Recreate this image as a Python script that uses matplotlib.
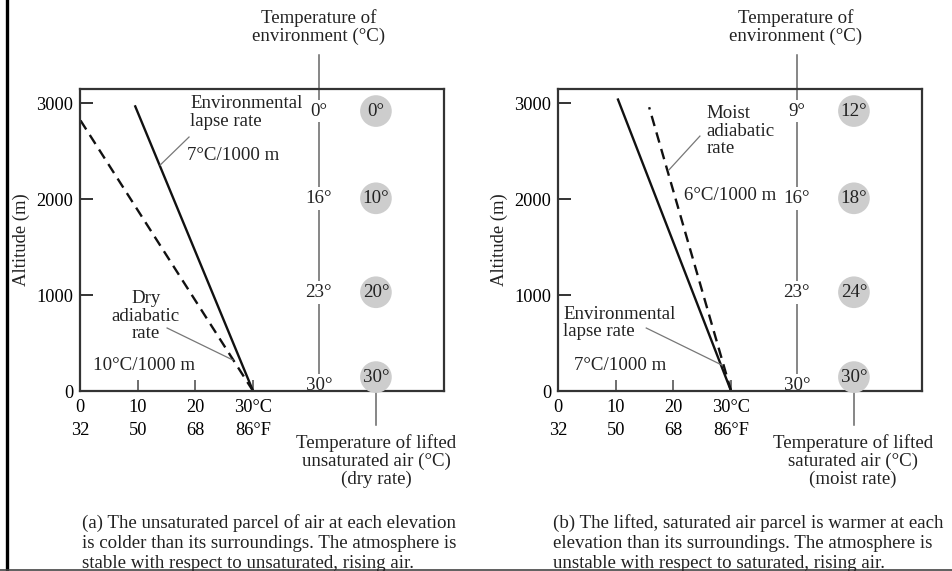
import matplotlib.pyplot as plt
from matplotlib.lines import Line2D

plt.rcParams['font.family'] = ['Liberation Serif', 'DejaVu Serif']
plt.rcParams['font.size'] = 13.6
plt.rcParams['text.color'] = '#222222'

# axis data
alt_ticks = [0, 1000, 2000, 3000]
temp_c = [0, 10, 20, 30]
temp_f = [32, 50, 68, 86]

# (a) unsaturated case
env_a_t = [30, 9.5]
env_a_z = [0, 2980]
dry_a_t = [30, 0]
dry_a_z = [0, 2830]
env_labels_a = ['0°', '16°', '23°', '30°']
parcel_labels_a = ['0°', '10°', '20°', '30°']

# (b) saturated case
env_b_t = [30, 10.4]
env_b_z = [0, 3040]
moist_b_t = [30, 15.8]
moist_b_z = [0, 2960]
env_labels_b = ['9°', '16°', '23°', '30°']
parcel_labels_b = ['12°', '18°', '24°', '30°']

# where the two temperature columns sit (in °C axis units) and label heights
env_col_x = 41.4
parcel_col_x = 51.3
env_label_z = [2920, 2010, 1030, 60]
parcel_label_z = [2920, 2010, 1030, 145]

W, H = 953, 571
fig = plt.figure(figsize=(W / 100, H / 100), dpi=100)


def px(x, y):
    return x / W, 1 - y / H


def setup_axes(left_px):
    ax = fig.add_axes([left_px / W, (H - 391) / H, 364 / W, 302 / H])
    ax.set_xlim(0, 63.1)
    ax.set_ylim(0, 3150)
    for s in ax.spines.values():
        s.set_linewidth(1.6)
        s.set_color('#333333')
    ax.set_yticks(alt_ticks)
    ax.set_yticklabels([str(a) for a in alt_ticks])
    ax.set_xticks(temp_c)
    ax.set_xticklabels([f'{c}°C\n{f}°F' if c == 30 else f'{c}\n{f}'
                        for c, f in zip(temp_c, temp_f)])
    for lab in ax.get_xticklabels():
        lab.set_linespacing(1.5)
    ax.tick_params(axis='y', direction='in', length=9.5, width=1.4,
                   color='#333333', pad=5, labelsize=13.2)
    ax.tick_params(axis='x', direction='in', length=8, width=1.2,
                   color='#555555', pad=5.5, labelsize=13.2)
    fig.text(*px(left_px - 59, 240), 'Altitude (m)', rotation=90,
             ha='center', va='center', fontsize=13.4)
    return ax


def columns(ax, env_labels, parcel_labels):
    ax.plot([env_col_x, env_col_x], [0, 3500], color='#666666', lw=1.1,
            clip_on=False, zorder=1)
    for lab, z in zip(env_labels, env_label_z):
        ax.text(env_col_x, z, lab, ha='center', va='center', zorder=2,
                bbox=dict(boxstyle='square,pad=0.15', fc='white', ec='none'))
    ax.plot([parcel_col_x, parcel_col_x], [parcel_label_z[-1], -355],
            color='#666666', lw=1.1, clip_on=False, zorder=1)
    ax.scatter([parcel_col_x] * len(parcel_labels), parcel_label_z, s=520,
               color='#cdcdcd', edgecolors='none', zorder=3, clip_on=False)
    for lab, z in zip(parcel_labels, parcel_label_z):
        ax.text(parcel_col_x, z, lab, ha='center', va='center', zorder=4)


# ---- panel (a)
ax1 = setup_axes(80)
ax1.plot(env_a_t, env_a_z, color='#111111', lw=1.7, solid_capstyle='butt')
ax1.plot(dry_a_t, dry_a_z, color='#111111', lw=1.7, ls=(0, (4.5, 2.8)))
columns(ax1, env_labels_a, parcel_labels_a)
ax1.text(19.1, 2904, 'Environmental\nlapse rate', ha='left', va='center',
         linespacing=1.05)
ax1.text(18.5, 2461, '7°C/1000 m', ha='left', va='center')
ax1.plot([18.9, 13.9], [2649, 2357], color='#777777', lw=0.9)
ax1.text(11.4, 782, 'Dry\nadiabatic\nrate', ha='center', va='center',
         linespacing=1.05)
ax1.plot([15.1, 26.5], [657, 323], color='#777777', lw=0.9)
ax1.text(2.2, 261, '10°C/1000 m', ha='left', va='center')

# ---- panel (b)
ax2 = setup_axes(558)
ax2.plot(env_b_t, env_b_z, color='#111111', lw=1.7)
ax2.plot(moist_b_t, moist_b_z, color='#111111', lw=1.7, ls=(0, (4.5, 2.8)))
columns(ax2, env_labels_b, parcel_labels_b)
ax2.text(25.7, 2711, 'Moist\nadiabatic\nrate', ha='left', va='center',
         linespacing=1.05)
ax2.plot([24.6, 19.2], [2659, 2304], color='#777777', lw=0.9)
ax2.text(21.8, 2044, '6°C/1000 m', ha='left', va='center')
ax2.text(0.9, 709, 'Environmental\nlapse rate', ha='left', va='center',
         linespacing=1.05)
ax2.plot([15.3, 28.4], [657, 271], color='#777777', lw=0.9)
ax2.text(2.8, 261, '7°C/1000 m', ha='left', va='center')

# titles above / below the columns
fig.text(*px(319, 27), 'Temperature of\nenvironment (°C)', ha='center',
         va='center', linespacing=1.05)
fig.text(*px(796, 27), 'Temperature of\nenvironment (°C)', ha='center',
         va='center', linespacing=1.05)
fig.text(*px(376, 461), 'Temperature of lifted\nunsaturated air (°C)\n(dry rate)',
         ha='center', va='center', linespacing=1.05)
fig.text(*px(853, 461), 'Temperature of lifted\nsaturated air (°C)\n(moist rate)',
         ha='center', va='center', linespacing=1.05)

# captions
fig.text(*px(82, 543), '(a) The unsaturated parcel of air at each elevation\n'
         'is colder than its surroundings. The atmosphere is\n'
         'stable with respect to unsaturated, rising air.',
         ha='left', va='center', linespacing=1.2)
fig.text(*px(553, 543), '(b) The lifted, saturated air parcel is warmer at each\n'
         'elevation than its surroundings. The atmosphere is\n'
         'unstable with respect to saturated, rising air.',
         ha='left', va='center', linespacing=1.2)

# page borders
fig.add_artist(Line2D([7 / W, 7 / W], [0, 1], color='black', lw=2.4))
fig.add_artist(Line2D([0, 1], [1 - 569.5 / H, 1 - 569.5 / H], color='#444444', lw=1.2))

fig.savefig('out.png', dpi=100)
